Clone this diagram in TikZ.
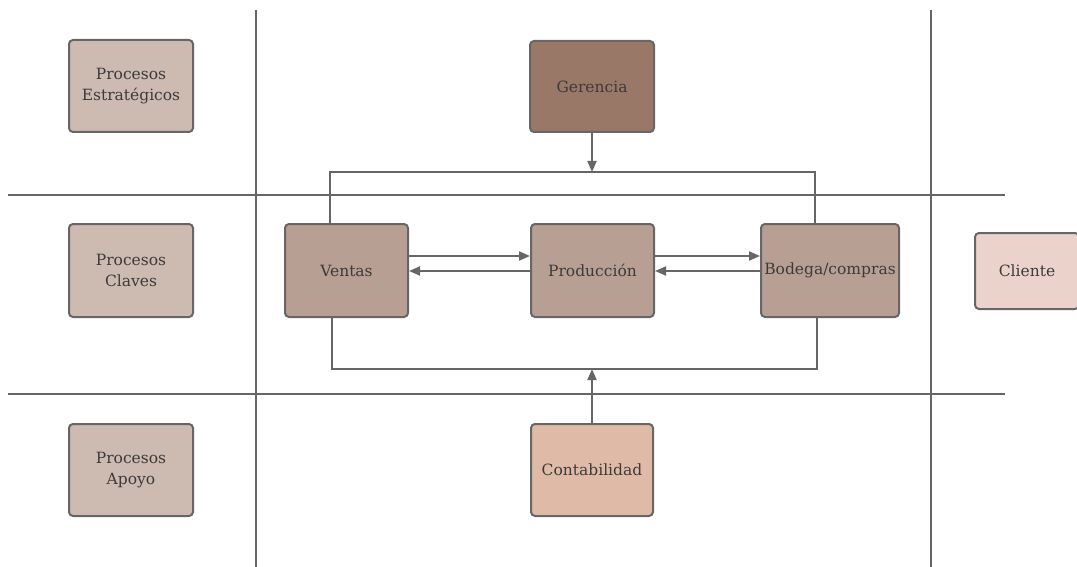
\documentclass[tikz,border=0pt]{standalone}
\usepackage{fontspec}
\setmainfont{DejaVu Serif}
\usetikzlibrary{arrows.meta}
\definecolor{lane}{HTML}{666666}
\definecolor{txt}{HTML}{3B3B3B}
\definecolor{labelfill}{HTML}{CDBAB0}
\definecolor{topfill}{HTML}{9A7868}
\definecolor{corefill}{HTML}{B89F93}
\definecolor{clientfill}{HTML}{EBD3CB}
\definecolor{supportfill}{HTML}{DFBBA7}
\tikzset{
  proc/.style={draw=lane, line width=2pt, rounded corners=4pt, text=txt,
    align=center, font=\fontsize{15.5}{21}\selectfont, inner sep=0pt},
  lanerule/.style={draw=lane, line width=2pt},
  flow/.style={draw=lane, line width=2pt, -{Triangle[length=11pt,width=9pt]}},
}
\begin{document}
\begin{tikzpicture}[x=1pt,y=-1pt]
\useasboundingbox (0,0) rectangle (1077,567);
% swimlane rules
\draw[lanerule] (8,195) -- (1005,195);
\draw[lanerule] (8,394) -- (1005,394);
\draw[lanerule] (256,10) -- (256,567);
\draw[lanerule] (931,10) -- (931,567);
% row labels
\node[proc, fill=labelfill, minimum width=124pt, minimum height=92pt] (estr) at (131,86) {Procesos\\Estratégicos};
\node[proc, fill=labelfill, minimum width=124pt, minimum height=93pt] (clav) at (131,270.5) {Procesos\\Claves};
\node[proc, fill=labelfill, minimum width=124pt, minimum height=92pt] (apoy) at (131,470) {Procesos\\Apoyo};
% process boxes
\node[proc, fill=topfill, minimum width=124pt, minimum height=91pt] (ger) at (592,86.5) {Gerencia};
\node[proc, fill=corefill, minimum width=123pt, minimum height=93pt] (ven) at (346.5,270.5) {Ventas};
\node[proc, fill=corefill, minimum width=123pt, minimum height=93pt] (pro) at (592.5,270.5) {Producción};
\node[proc, fill=corefill, minimum width=138pt, minimum height=93pt] (bod) at (830,270.5) {Bodega/compras};
\node[proc, fill=supportfill, minimum width=122pt, minimum height=92pt] (con) at (592,470) {Contabilidad};
\node[proc, fill=clientfill, minimum width=104pt, minimum height=76pt] (cli) at (1027,271) {Cliente};
% loop around the core processes
\coordinate (tl) at (330,172);
\coordinate (tr) at (815,172);
\coordinate (bl) at (332,369);
\coordinate (br) at (817,369);
\draw[lanerule] (ven.north -| tl) -- (tl) -- (tr) -- (bod.north -| tr);
\draw[lanerule] (ven.south -| bl) -- (bl) -- (br) -- (bod.south -| br);
% inputs from management and accounting
\draw[flow] (ger.south) -- (ger.south |- tl);
\draw[flow] (con.north) -- (con.north |- bl);
% exchanges between core processes
\draw[flow] (ven.east |- 0,256) -- (pro.west |- 0,256);
\draw[flow] (pro.west |- 0,271) -- (ven.east |- 0,271);
\draw[flow] (pro.east |- 0,256) -- (bod.west |- 0,256);
\draw[flow] (bod.west |- 0,271) -- (pro.east |- 0,271);
\end{tikzpicture}
\end{document}
